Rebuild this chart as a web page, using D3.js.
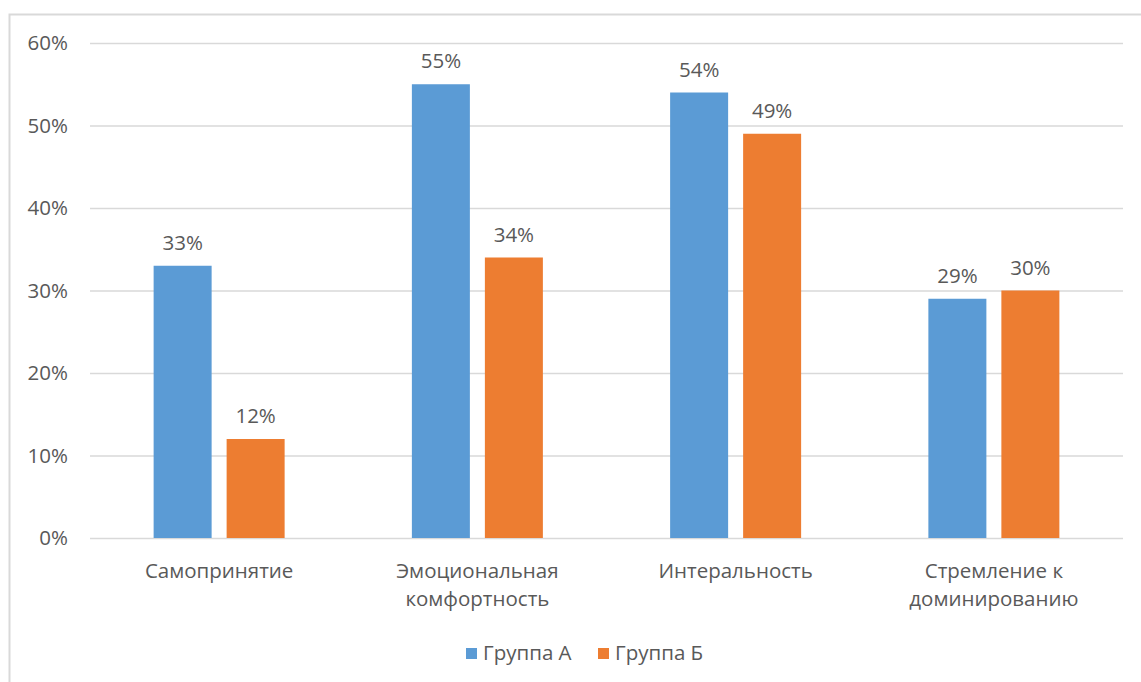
<!DOCTYPE html>
<html>
<head>
<meta charset="utf-8">
<script src="https://cdn.jsdelivr.net/npm/d3@7"></script>
<style>
  body { margin: 0; background: #fff; }
  text { font-family: "Open Sans", "Noto Sans", sans-serif; fill: #595959; }
</style>
</head>
<body>
<svg id="chart"></svg>
<script>
var categories = [["Самопринятие"], ["Эмоциональная", "комфортность"], ["Интеральность"], ["Стремление к", "доминированию"]];
var seriesNames = ["Группа А", "Группа Б"];
var seriesA = [33, 55, 54, 29];
var seriesB = [12, 34, 49, 30];
var yTicks = [0, 10, 20, 30, 40, 50, 60];
var colors = ["#5b9bd5", "#ed7d31"];

var W = 1141, H = 682;
var margin = { top: 43, right: 18, bottom: 144, left: 90 },
  width = W - margin.left - margin.right,
  height = H - margin.top - margin.bottom;

var fs = "20.5px";

var svg = d3.select("#chart")
  .attr("width", W)
  .attr("height", H);

// frame
svg.append("path")
  .attr("d", "M9.5," + H + "V14.5H" + W)
  .attr("fill", "none")
  .attr("stroke", "#d9d9d9")
  .attr("stroke-width", 2);

var g = svg.append("g")
  .attr("transform", "translate(" + margin.left + "," + margin.top + ")");

var x = d3.scaleBand()
  .domain(d3.range(categories.length))
  .range([0, width]);
var y = d3.scaleLinear()
  .domain([0, 60])
  .range([height, 0]);

var barW = 58, gap = 15;

var yAxis = d3.axisLeft(y)
  .tickValues(yTicks)
  .tickSize(-width)
  .tickPadding(22)
  .tickFormat(function(d) { return d + "%"; });

var ya = g.append("g")
  .attr("class", "y axis")
  .call(yAxis);
ya.select(".domain").remove();
ya.selectAll("line").attr("stroke", "#d9d9d9").attr("stroke-width", 1.5);
ya.selectAll("text").style("font-size", fs).style("fill", "#595959")
  .style("font-family", "\"Open Sans\", sans-serif");

var data = categories.map(function(c, i) { return { i: i, vals: [seriesA[i], seriesB[i]] }; });

var groups = g.selectAll(".grp")
    .data(data)
  .enter().append("g")
    .attr("class", "grp")
    .attr("transform", function(d) { return "translate(" + (x(d.i) + x.bandwidth() / 2) + ",0)"; });

groups.selectAll("rect")
    .data(function(d) { return d.vals; })
  .enter().append("rect")
    .attr("x", function(d, j) { return j === 0 ? -barW - gap / 2 : gap / 2; })
    .attr("y", function(d) { return y(d); })
    .attr("width", barW)
    .attr("height", function(d) { return height - y(d); })
    .style("fill", function(d, j) { return colors[j]; });

groups.selectAll(".val")
    .data(function(d) { return d.vals; })
  .enter().append("text")
    .attr("class", "val")
    .attr("x", function(d, j) { return j === 0 ? -barW / 2 - gap / 2 : barW / 2 + gap / 2; })
    .attr("y", function(d) { return y(d) - 16; })
    .attr("text-anchor", "middle")
    .style("font-size", fs)
    .text(function(d) { return d + "%"; });

groups.append("text")
    .attr("class", "cat")
    .attr("text-anchor", "middle")
    .attr("y", height + 40)
    .style("font-size", fs)
    .selectAll("tspan")
    .data(function(d) { return categories[d.i]; })
  .enter().append("tspan")
    .attr("x", 0)
    .attr("dy", function(d, k) { return k === 0 ? 0 : 28; })
    .text(function(d) { return d; });

// legend
var legend = svg.append("g")
  .attr("transform", "translate(466,648)");
var lx = [0, 132];
seriesNames.forEach(function(name, j) {
  var item = legend.append("g").attr("transform", "translate(" + lx[j] + ",0)");
  item.append("rect")
    .attr("width", 11).attr("height", 11)
    .style("fill", colors[j]);
  item.append("text")
    .attr("x", 17).attr("y", 12)
    .style("font-size", fs)
    .text(name);
});
</script>
</body>
</html>
